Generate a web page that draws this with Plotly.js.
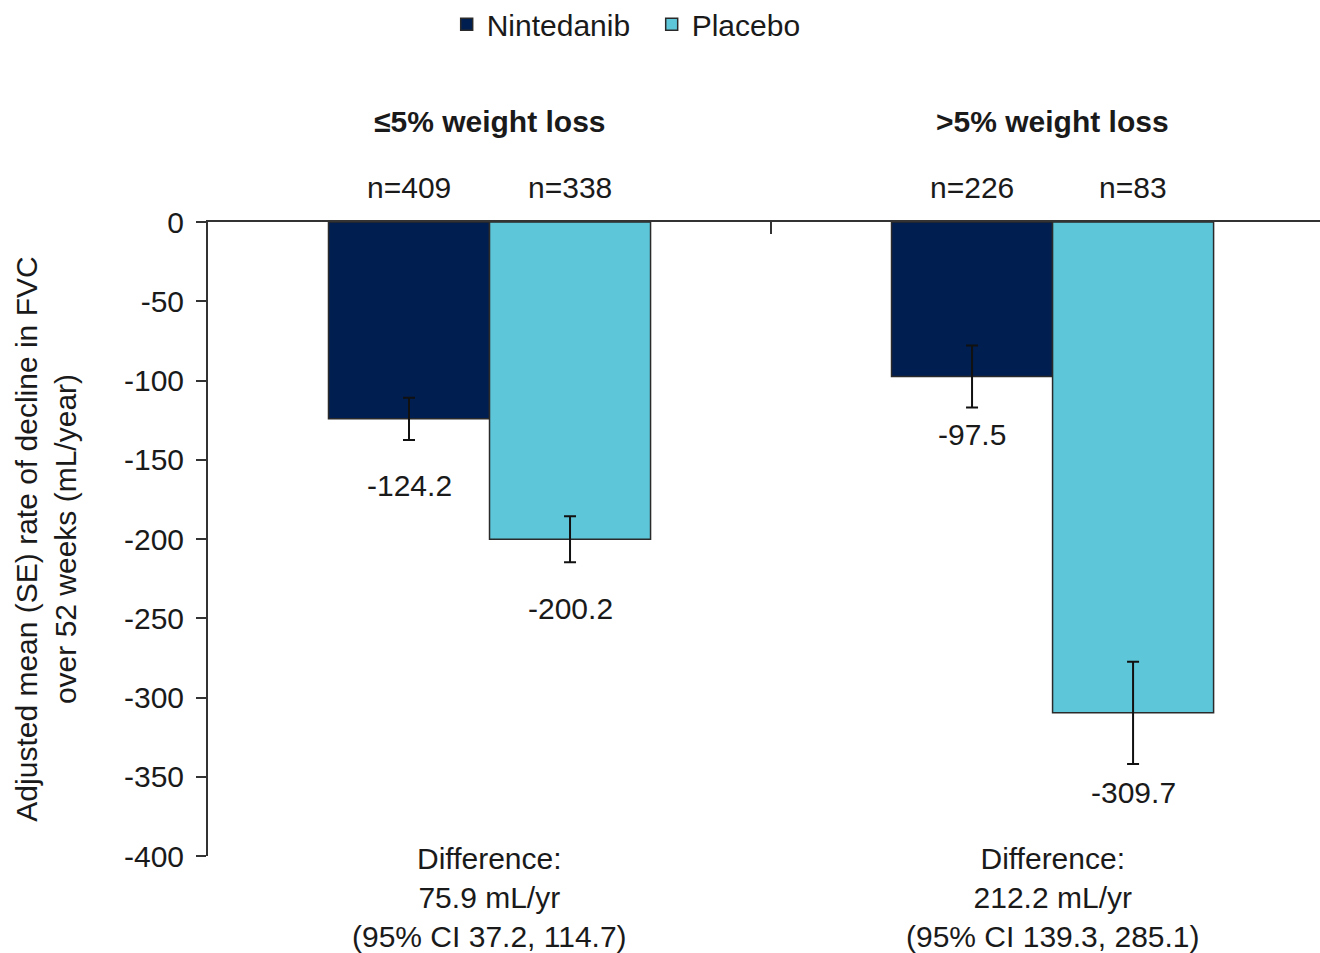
<!DOCTYPE html>
<html>
<head>
<meta charset="utf-8">
<script src="https://cdn.plot.ly/plotly-3.0.1.min.js"></script>
<style>html,body{margin:0;padding:0;background:#fff;}#chart{width:1320px;height:953px;}</style>
</head>
<body>
<div id="chart"></div>
<script>
// ---- data ----
const categories = ["≤5% weight loss", ">5% weight loss"];
const nintedanibValues = [-124.2, -97.5];
const placeboValues = [-200.2, -309.7];
const nintedanibSE = [13.3, 19.6];
const placeboSE = [14.5, 32.2];
const nintedanibN = ["n=409", "n=226"];
const placeboN = ["n=338", "n=83"];
const differenceText = [
  "Difference:<br>75.9 mL/yr<br>(95% CI 37.2, 114.7)",
  "Difference:<br>212.2 mL/yr<br>(95% CI 139.3, 285.1)"
];
const yTickVals = [0, -50, -100, -150, -200, -250, -300, -350, -400];
const yTickText = ["0", "-50", "-100", "-150", "-200", "-250", "-300", "-350", "-400"];

// ---- style ----
const FONT = "Liberation Sans, Arial, sans-serif";
const FS = 30;
const TXT = "#1a1a1a";
const NAVY = "#001E50";
const CYAN = "#5EC6D9";
const BARW = 0.286; // width of one bar in category units
const xIdx = categories.map((c, i) => i);

const traces = [
  {
    type: "bar", name: "Nintedanib", x: xIdx, y: nintedanibValues,
    marker: {color: NAVY, line: {color: "#2a2a2a", width: 1.5}},
    error_y: {type: "data", array: nintedanibSE, visible: true, color: "#111", thickness: 2, width: 6},
    hoverinfo: "skip"
  },
  {
    type: "bar", name: "Placebo", x: xIdx, y: placeboValues,
    marker: {color: CYAN, line: {color: "#2a2a2a", width: 1.5}},
    error_y: {type: "data", array: placeboSE, visible: true, color: "#111", thickness: 2, width: 6},
    hoverinfo: "skip"
  }
];

const annotations = [];
const f = {family: FONT, size: FS, color: TXT};
categories.forEach((c, i) => {
  annotations.push({xref: "x", yref: "paper", x: i, y: 1.158, text: "<b>" + c + "</b>",
    showarrow: false, xanchor: "center", yanchor: "middle", font: f});
});
xIdx.forEach(i => {
  annotations.push({xref: "x", yref: "paper", x: i - BARW / 2, y: 1.055, text: nintedanibN[i],
    showarrow: false, xanchor: "center", yanchor: "middle", font: f});
  annotations.push({xref: "x", yref: "paper", x: i + BARW / 2, y: 1.055, text: placeboN[i],
    showarrow: false, xanchor: "center", yanchor: "middle", font: f});
});
const labelShift = [[-27, -28], [-8, -10]];
xIdx.forEach(i => {
  annotations.push({xref: "x", yref: "y", x: i - BARW / 2, y: nintedanibValues[i] - nintedanibSE[i],
    yshift: labelShift[i][0], text: String(nintedanibValues[i]), showarrow: false,
    xanchor: "center", yanchor: "top", font: f});
  annotations.push({xref: "x", yref: "y", x: i + BARW / 2, y: placeboValues[i] - placeboSE[i],
    yshift: labelShift[i][1], text: String(placeboValues[i]), showarrow: false,
    xanchor: "center", yanchor: "top", font: f});
});
xIdx.forEach(i => {
  annotations.push({xref: "x", yref: "paper", x: i, y: 0.025, text: differenceText[i],
    showarrow: false, xanchor: "center", yanchor: "top", align: "center", font: f});
});

const layout = {
  width: 1320, height: 953,
  margin: {l: 208, r: 0, t: 222, b: 97, autoexpand: false},
  paper_bgcolor: "#fff", plot_bgcolor: "#fff",
  barmode: "group", bargap: 0.428, bargroupgap: 0,
  font: f,
  showlegend: true,
  legend: {orientation: "h", x: 0.399, xanchor: "center", y: 1.312, yanchor: "middle",
    font: f, itemwidth: 30, entrywidth: 160, tracegroupgap: 0, bgcolor: "rgba(0,0,0,0)"},
  xaxis: {
    range: [-0.5, 1.475], side: "top", showline: true, linecolor: "#333", linewidth: 2,
    tickmode: "array", tickvals: [0.5], ticktext: [""], ticks: "inside", ticklen: 12,
    tickwidth: 2, tickcolor: "#333", showgrid: false, zeroline: false, fixedrange: true
  },
  yaxis: {
    range: [-400, 0], showline: true, linecolor: "#333", linewidth: 2,
    tickmode: "array", tickvals: yTickVals, ticktext: yTickText, ticks: "outside", ticklen: 10, tickwidth: 2,
    tickcolor: "#333", showgrid: false, zeroline: false, tickfont: f, ticklabelstandoff: 6,
    title: {text: "Adjusted mean (SE) rate of decline in FVC<br>over 52 weeks (mL/year)",
      font: {family: FONT, size: 30, color: TXT}, standoff: 38},
    fixedrange: true
  },
  annotations: annotations
};

Plotly.newPlot("chart", traces, layout, {displayModeBar: false, staticPlot: true});
</script>
</body>
</html>
